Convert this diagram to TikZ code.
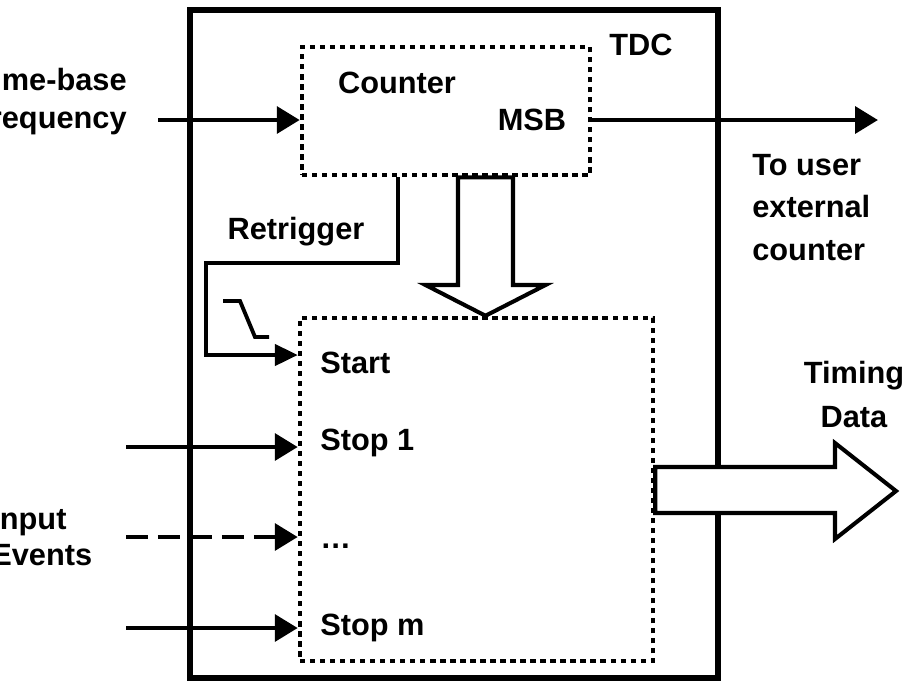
\documentclass[tikz,border=0pt]{standalone}
\usepackage{fontspec}
\setmainfont{Liberation Sans}
\usetikzlibrary{arrows.meta,positioning}

\tikzset{
  lbl/.style={font=\bfseries\fontsize{17.5}{24}\selectfont, inner sep=0pt},
  dotbox/.style={draw, line width=2.6pt, dash pattern=on 3pt off 2.7pt, inner sep=0pt},
  sig/.style={line width=2.8pt, -{Triangle[length=13pt,width=15pt]}},
  trig/.style={line width=2.2pt, -{Triangle[length=13pt,width=12pt]}},
  fatarrow/.style={draw, line width=2.3pt, fill=white, line join=miter},
}

\begin{document}
\begin{tikzpicture}[x=0.02cm,y=-0.02cm]
\useasboundingbox (0,0) rectangle (908,681);

% blocks
\node[draw, line width=3.4pt, minimum width=10.56cm, minimum height=13.36cm] (tdc) at (454,344) {};
\node[dotbox, minimum width=5.76cm, minimum height=2.56cm] (cnt) at (446,111) {};
\node[dotbox, minimum width=7.06cm, minimum height=6.86cm] (evt) at (476.5,489.5) {};

% labels inside
\node[lbl, anchor=base] (tdclbl) at (641,55) {TDC};
\node[lbl, anchor=base] (cntlbl) at (397,93) {Counter};
\node[lbl, anchor=base] (msb) at (532,130) {MSB};
\node[lbl, anchor=base] (retrig) at (296,239) {Retrigger};
\node[lbl, anchor=base west] (start) at (320,373) {Start};
\node[lbl, anchor=base west] (stop1) at (320,450) {Stop 1};
\node[lbl, anchor=base west] (stopdots) at (320,548) {…};
\node[lbl, anchor=base west] (stopm) at (320,635) {Stop m};

% labels outside (base = last line)
\node[lbl, font=\bfseries\fontsize{17.5}{21.5}\selectfont, align=right, anchor=base east] (tbase) at (127,128) {Time-base\\frequency};
\node[lbl, font=\bfseries\fontsize{17.5}{20}\selectfont, align=left, anchor=base west] (inev) at (-9,565) {Input\\Events};
\node[lbl, align=left, anchor=base west] (touser) at (752,260) {To user\\external\\counter};
\node[lbl, font=\bfseries\fontsize{17.5}{25}\selectfont, align=center, anchor=base] (timing) at (854,427) {Timing\\Data};

% counter connections
\coordinate (tbin) at (158,120);
\coordinate (msbout) at (878,120);
\draw[sig] (tbin) -- (tbin -| cnt.west);
\draw[sig] (msbout -| cnt.east) -- (msbout);

% retrigger loop
\coordinate (rt) at (398,263);
\coordinate (rl) at (206,355);
\draw[trig] (rt |- cnt.south) -- (rt) -| (rl) -- (rl -| evt.west);
\draw[line width=2.2pt] (223,301) -- (240,301) -- (255,337) -- (269,337);

% stop inputs
\coordinate (s1in) at (126,447);
\coordinate (sdin) at (126,537);
\coordinate (smin) at (126,628);
\draw[sig] (s1in) -- (s1in -| evt.west);
\draw[sig, dash pattern=on 12.5pt off 5.7pt] (sdin) -- (sdin -| evt.west);
\draw[sig] (smin) -- (smin -| evt.west);

% wide arrows
\draw[fatarrow] (458,0 |- cnt.south) -- (458,285) -- (425.5,285) -- (485.5,0 |- evt.north)
  -- (545.5,285) -- (513,285) -- (513,0 |- cnt.south) -- cycle;
\draw[fatarrow] (evt.east |- 0,467) -- (835,467) -- (835,443) -- (896,491)
  -- (835,539) -- (835,513) -- (evt.east |- 0,513) -- cycle;
\end{tikzpicture}
\end{document}
